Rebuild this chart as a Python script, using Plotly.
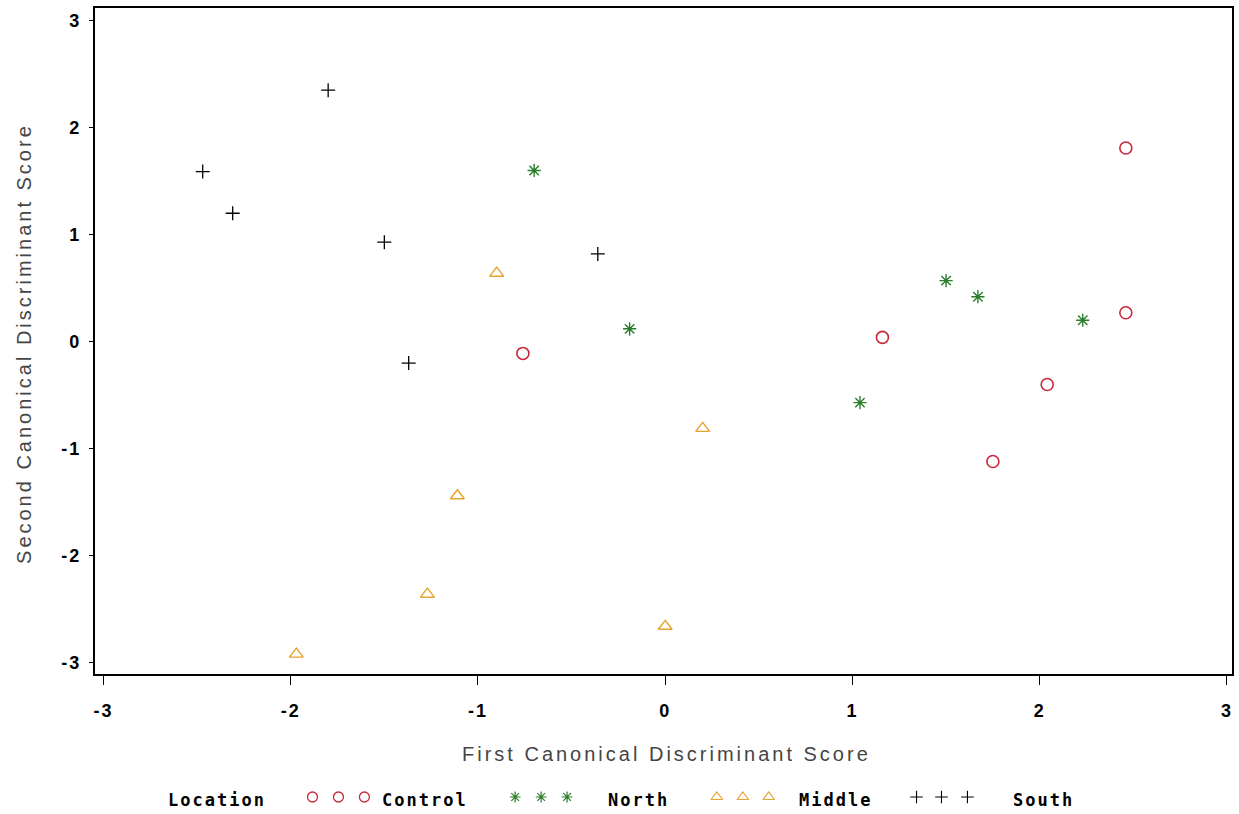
import plotly.graph_objects as go

# Canonical discriminant scores by location
control_x = [2.46, 2.46, 2.04, 1.75, 1.16, -0.76]
control_y = [1.81, 0.27, -0.40, -1.12, 0.04, -0.11]

north_x = [-0.70, -0.19, 1.04, 1.50, 1.67, 2.23]
north_y = [1.60, 0.12, -0.57, 0.57, 0.42, 0.20]

middle_x = [-0.90, 0.20, -1.11, -1.27, -1.97, 0.00]
middle_y = [0.64, -0.81, -1.44, -2.36, -2.92, -2.66]

south_x = [-1.80, -2.47, -2.31, -1.50, -0.36, -1.37]
south_y = [2.35, 1.59, 1.20, 0.93, 0.82, -0.20]

tick_vals = [-3, -2, -1, 0, 1, 2, 3]
tick_text = ["-3", "-2", "-1", "0", "1", "2", "3"]

RED = "#c8283a"
GREEN = "#2a7d2a"
ORANGE = "#e8a22a"
BLACK = "#000000"

groups = [
    ("Control", control_x, control_y, "circle-open", RED, 12, 1.6),
    ("North", north_x, north_y, "asterisk-open", GREEN, 11, 1.4),
    ("Middle", middle_x, middle_y, "triangle-up-open", ORANGE, 12, 1.4),
    ("South", south_x, south_y, "cross-thin-open", BLACK, 10, 1.3),
]

W, H = 1239, 814
fig = go.Figure()

for name, xs, ys, sym, col, sz, lw in groups:
    fig.add_trace(go.Scatter(
        x=xs, y=ys, mode="markers", name=name, showlegend=False,
        marker=dict(symbol=sym, size=sz, color=col,
                    line=dict(color=col, width=lw)),
    ))


def spaced(text, px):
    return '<span style="letter-spacing:%spx">%s</span>' % (px, text)


# Hand-built legend row drawn on a pixel-space overlay axis
legend_font = dict(family="DejaVu Sans Mono", size=17, color="black", weight="bold")
legend_y = 797
legend_items = [
    ([312, 338, 364], "circle-open", RED, 10, 1.3, "Control", 380),
    ([515, 541, 567], "asterisk-open", GREEN, 9, 1.2, "North", 606),
    ([717, 743, 769], "triangle-up-open", ORANGE, 10, 1.2, "Middle", 797),
    ([917, 942, 968], "cross-thin-open", BLACK, 9, 1.1, "South", 1012),
]

for xs, sym, col, sz, lw, label, lx in legend_items:
    fig.add_trace(go.Scatter(
        x=xs, y=[legend_y] * len(xs), mode="markers", showlegend=False,
        xaxis="x2", yaxis="y2", hoverinfo="skip",
        marker=dict(symbol=sym, size=sz, color=col,
                    line=dict(color=col, width=lw)),
    ))
    fig.add_annotation(x=lx, y=800, xref="x2", yref="y2", text=spaced(label, 2),
                       showarrow=False, xanchor="left", font=legend_font)
fig.add_annotation(x=165, y=800, xref="x2", yref="y2", text=spaced("Location", 2),
                   showarrow=False, xanchor="left", font=legend_font)

# Axis titles
title_font = dict(family="Liberation Sans", size=20, color="#454545")
fig.add_annotation(x=667 / W, y=1 - 754 / H, xref="paper", yref="paper",
                   xanchor="center", yanchor="middle",
                   text=spaced("First Canonical Discriminant Score", 3),
                   showarrow=False, font=title_font)
fig.add_annotation(x=23 / W, y=1 - 343 / H, xref="paper", yref="paper",
                   xanchor="center", yanchor="middle",
                   text=spaced("Second Canonical Discriminant Score", 3),
                   showarrow=False, textangle=-90, font=title_font)

left, right, top, bottom = 94, 1233, 7.5, 674
axis_font = dict(family="Liberation Sans", size=18, color="black", weight="bold")
tick_labels = [spaced(t, 2) for t in tick_text]

fig.update_layout(
    width=W, height=H,
    margin=dict(l=0, r=0, t=0, b=0),
    paper_bgcolor="white", plot_bgcolor="rgba(0,0,0,0)",
    xaxis=dict(
        domain=[left / W, right / W],
        range=[-3.046, 3.027],
        tickmode="array", tickvals=tick_vals, ticktext=tick_labels,
        ticks="outside", ticklen=9, tickwidth=1, tickcolor="black",
        ticklabelstandoff=10,
        showline=True, linecolor="black", linewidth=2, mirror=True,
        showgrid=False, zeroline=False, tickfont=axis_font,
    ),
    yaxis=dict(
        domain=[1 - bottom / H, 1 - top / H],
        range=[-3.106, 3.123],
        tickmode="array", tickvals=tick_vals, ticktext=tick_labels,
        ticks="outside", ticklen=4, tickwidth=1, tickcolor="black",
        ticklabelstandoff=4,
        showline=True, linecolor="black", linewidth=2, mirror=True,
        showgrid=False, zeroline=False, tickfont=axis_font,
    ),
    xaxis2=dict(domain=[0, 1], range=[0, W], visible=False, anchor="y2"),
    yaxis2=dict(domain=[0, 1], range=[H, 0], visible=False, anchor="x2"),
)

fig.write_html("out.html")
